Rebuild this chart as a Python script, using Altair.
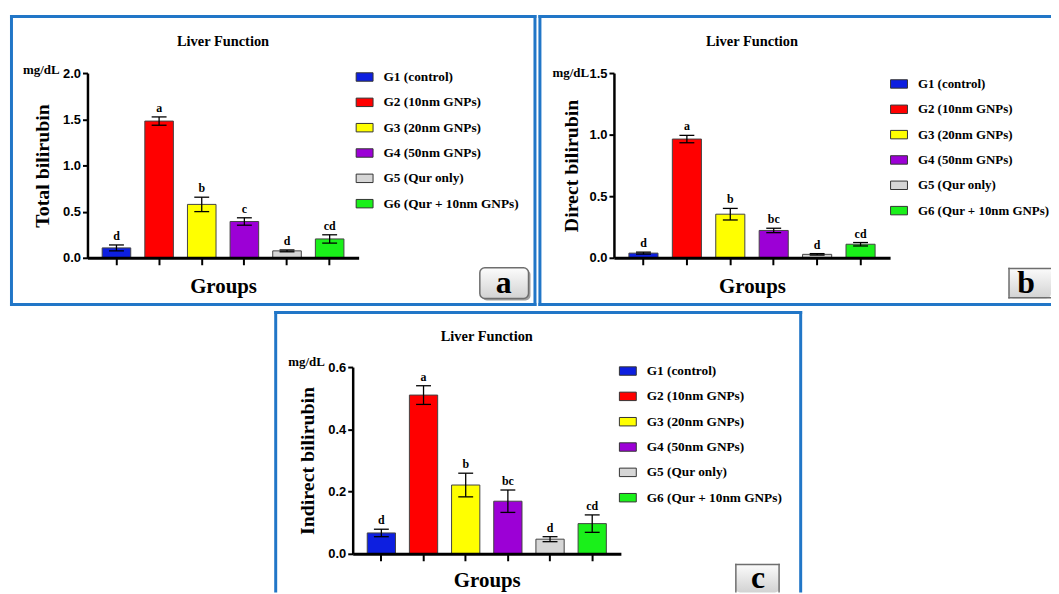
import altair as alt
import pandas as pd

# ---------------- data ----------------
groups = ["G1 (control)", "G2 (10nm GNPs)", "G3 (20nm GNPs)",
          "G4 (50nm GNPs)", "G5 (Qur only)", "G6 (Qur + 10nm GNPs)"]
colors = ["#0d1fe0", "#ff0000", "#ffff00", "#9c00d6", "#d6d6d6", "#1af01a"]

total_mean = [0.107, 1.48, 0.578, 0.393, 0.075, 0.204]
total_sem = [0.032, 0.045, 0.078, 0.040, 0.010, 0.045]
total_letters = ["d", "a", "b", "c", "d", "cd"]

direct_mean = [0.038, 0.964, 0.354, 0.222, 0.028, 0.110]
direct_sem = [0.008, 0.030, 0.047, 0.018, 0.006, 0.014]
direct_letters = ["d", "a", "b", "bc", "d", "cd"]

indirect_mean = [0.067, 0.510, 0.221, 0.169, 0.047, 0.097]
indirect_sem = [0.012, 0.030, 0.038, 0.036, 0.008, 0.028]
indirect_letters = ["d", "a", "b", "bc", "d", "cd"]

total_ticks = [0, 0.5, 1.0, 1.5, 2.0]
direct_ticks = [0, 0.5, 1.0, 1.5]
indirect_ticks = [0, 0.2, 0.4, 0.6]

SERIF = "Liberation Serif"
SANS = "Liberation Sans"
FRAME = "#2176c7"
ONE = pd.DataFrame({"k": [0]})


def rect(x1, x2, y1, y2, **kw):
    return alt.Chart(ONE).mark_rect(**kw).encode(
        x=alt.value(x1), x2=alt.value(x2), y=alt.value(y1), y2=alt.value(y2))


def label(text, x, y, size, align="center", baseline="middle"):
    return alt.Chart(ONE).mark_text(
        text=text, font=SERIF, fontWeight="bold", fontSize=size,
        align=align, baseline=baseline, color="black").encode(
        x=alt.value(x), y=alt.value(y))


def border(x1, x2, y1, y2, t, color, sides):
    out = []
    if "l" in sides:
        out.append(rect(x1, x1 + t, y1, y2, fill=color))
    if "r" in sides:
        out.append(rect(x2 - t, x2, y1, y2, fill=color))
    if "t" in sides:
        out.append(rect(x1, x2, y1, y1 + t, fill=color))
    if "b" in sides:
        out.append(rect(x1, x2, y2 - t, y2, fill=color))
    return out


GRAD = alt.Gradient(gradient="linear",
                    stops=[alt.GradientStop(color="#fcfcfc", offset=0),
                           alt.GradientStop(color="#d2d2d2", offset=1)],
                    x1=0, x2=0, y1=0, y2=1)


def letter_box(x1, x2, y1, y2, sides, letter, lx, ly):
    out = []
    if sides == "lrtb":
        out.append(rect(x1 + 2, x2 + 2, y1 + 2, y2 + 2, fill="#a0a0a0", cornerRadius=5))
        out.append(rect(x1, x2, y1, y2, fill=GRAD, stroke="#6e6e6e",
                        strokeWidth=1.5, cornerRadius=5))
    else:
        out.append(rect(x1, x2, y1, y2, fill=GRAD, cornerRadius=5))
        out += border(x1, x2, y1, y2, 1.5, "#6e6e6e", sides)
    out.append(label(letter, lx, ly, 32, baseline="alphabetic"))
    return out


def panel(mean, sem, letters, ytitle, ymax, yticks, g):
    W, H = g["W"], g["H"]
    df = pd.DataFrame({"group": groups, "mean": mean, "sem": sem, "letter": letters})
    df["lo"] = df["mean"] - df["sem"]
    df["hi"] = df["mean"] + df["sem"]
    base = alt.Chart(df)
    xs = alt.Scale(paddingInner=0.33, paddingOuter=0.345)
    xaxis = alt.Axis(labels=False, tickSize=7, tickWidth=2, tickColor="black",
                     domainColor="black", domainWidth=3, grid=False, zindex=1,
                     title="Groups", titleFont=SERIF, titleFontWeight="bold",
                     titleFontSize=21, titleColor="black", titleX=W / 2,
                     titleY=g["gy"], titleAlign="center", titleBaseline="middle")
    yaxis = alt.Axis(values=yticks, format=".1f", tickSize=5, tickWidth=2,
                     tickColor="black", domainColor="black", domainWidth=2.5,
                     labelFont=SANS, labelFontWeight="bold", labelFontSize=13,
                     labelColor="black", labelPadding=2, grid=False, zindex=1,
                     title=ytitle, titleFont=SERIF, titleFontWeight="bold",
                     titleFontSize=20, titleColor="black", titleX=g["tx"],
                     titleY=H / 2, titleAngle=270, titleAlign="center",
                     titleBaseline="middle")
    xenc = alt.X("group:N", sort=groups, scale=xs, axis=xaxis)
    xplain = alt.X("group:N", sort=groups)
    yscale = alt.Scale(domain=[0, ymax], nice=False)
    legend = alt.Legend(title=None, orient="none", legendX=g["lx"], legendY=g["ly"],
                        symbolType="M-1,-0.5H1V0.5H-1Z", symbolSize=289,
                        symbolStrokeColor="#333333", symbolStrokeWidth=1,
                        symbolOpacity=1, labelFont=SERIF, labelFontWeight="bold",
                        labelFontSize=g["lfs"], labelColor="black", labelOffset=10,
                        rowPadding=9.5, padding=0, labelLimit=300)
    bars = base.mark_bar(stroke="#444444", strokeWidth=1, opacity=1).encode(
        x=xenc,
        y=alt.Y("mean:Q", scale=yscale, axis=yaxis),
        color=alt.Color("group:N", scale=alt.Scale(domain=groups, range=colors),
                        legend=legend))
    err = base.mark_rule(color="black", strokeWidth=1.3).encode(
        x=xplain, y="lo:Q", y2="hi:Q")
    cap_lo = base.mark_tick(color="black", thickness=1.3, size=15, opacity=1).encode(
        x=xplain, y="lo:Q")
    cap_hi = base.mark_tick(color="black", thickness=1.3, size=15, opacity=1).encode(
        x=xplain, y="hi:Q")
    sig = base.mark_text(font=SERIF, fontWeight="bold", fontSize=12, baseline="bottom",
                         dy=-2, color="black").encode(x=xplain, y="hi:Q", text="letter:N")

    fx1, fx2, fy1, fy2 = g["frame"]
    layers = border(fx1, fx2, fy1, fy2, 3, FRAME, g["sides"])
    bx1, bx2, by1, by2 = g["box"]
    layers += letter_box(bx1, bx2, by1, by2, g["bsides"], g["letter"], g["bl"][0], g["bl"][1])
    layers += [bars, err, cap_lo, cap_hi, sig,
               label("Liver Function", W / 2, g["ty"], 14.5),
               label("mg/dL", g["mx"], g["my"], 13, align="right")]
    return alt.layer(*layers).properties(width=W, height=H)


geo_a = dict(W=273, H=186, gy=29, tx=-45, lx=270, ly=-5, lfs=13.4, ty=-31, mx=-28, my=-3,
             frame=(-78, 452, -58.5, 234.5), sides="lrtb",
             box=(395, 444, 196, 227), bsides="lrtb", letter="a", bl=(419, 221))
geo_b = dict(W=278, H=186, gy=29, tx=-43, lx=278, ly=2, lfs=13, ty=-31, mx=-25, my=0,
             frame=(-76, 440, -58.5, 234.5), sides="ltb",
             box=(397, 440, 196, 227), bsides="ltb", letter="b", bl=(415, 221))
geo_c = dict(W=270, H=188, gy=27, tx=-45, lx=268, ly=-5, lfs=13.4, ty=-30, mx=-28, my=-5,
             frame=(-79, 452.5, -56.5, 227), sides="lrt",
             box=(385, 430, 198, 227), bsides="lrt", letter="c", bl=(408, 222.5))

pa = panel(total_mean, total_sem, total_letters, "Total bilirubin", 2.0, total_ticks, geo_a)
pb = panel(direct_mean, direct_sem, direct_letters, "Direct bilirubin", 1.5, direct_ticks, geo_b)
pc = panel(indirect_mean, indirect_sem, indirect_letters, "Indirect bilirubin", 0.6,
           indirect_ticks, geo_c)

# blank spacer that offsets panel c to the right
spacer = rect(0, 1, 0, 1, fill="white").properties(width=188, height=1)

RES = dict(x="independent", y="independent", color="independent")
row1 = alt.hconcat(pa, pb, spacing=2).resolve_scale(**RES).resolve_legend(color="independent")
row2 = alt.hconcat(spacer, pc, spacing=0).resolve_scale(**RES).resolve_legend(color="independent")

chart = alt.vconcat(row1, row2, spacing=4).resolve_scale(**RES).resolve_legend(
    color="independent").properties(
    padding={"left": 2, "top": 4.5, "right": 0, "bottom": 0},
    background="white").configure_view(stroke=None)

chart.save("out.html", embed_options={"renderer": "svg", "actions": False})
